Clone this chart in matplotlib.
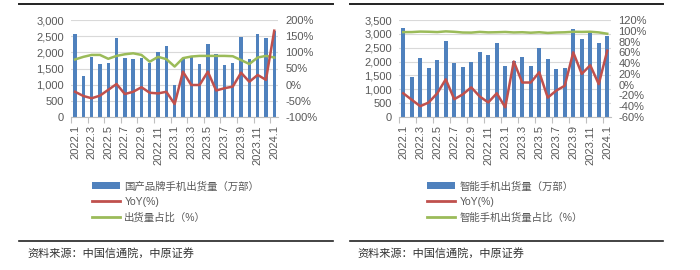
import matplotlib
matplotlib.use("Agg")
import matplotlib.pyplot as plt
import numpy as np
from matplotlib.lines import Line2D
from matplotlib.patches import Patch
from matplotlib.ticker import FuncFormatter, FixedLocator

plt.rcParams['font.family'] = ['Liberation Sans', 'Noto Sans CJK SC', 'DejaVu Sans']
plt.rcParams['axes.unicode_minus'] = False

months = ['2022.1', '2022.2', '2022.3', '2022.4', '2022.5', '2022.6', '2022.7', '2022.8',
          '2022.9', '2022.10', '2022.11', '2022.12', '2023.1', '2023.2', '2023.3', '2023.4',
          '2023.5', '2023.6', '2023.7', '2023.8', '2023.9', '2023.10', '2023.11', '2023.12',
          '2024.1']

# Left panel: domestic-brand phone shipments
domestic = [2560, 1270, 1865, 1640, 1660, 2450, 1815, 1785, 1815, 1680, 2000, 2205, 990,
            1785, 1885, 1630, 2250, 1950, 1610, 1680, 2485, 1785, 2555, 2455, 2650]
domestic_yoy = [-22, -35, -42, -34, -16, 2, -29, -22, -8, -25, -27, -22, -60,
                40, -1, -1, 40, -18, -11, -6, 37, 9, 30, 15, 167]
domestic_share = [78, 86, 92, 92, 80, 89, 94, 97, 92, 71, 86, 79, 56,
                  82, 87, 89, 89, 89, 89, 88, 76, 64, 84, 89, 84]

# Right panel: smartphone shipments
smart = [3225, 1455, 2118, 1782, 2058, 2744, 1935, 1815, 1997, 2358, 2238, 2685, 1840,
         2033, 2155, 1850, 2500, 2085, 1735, 1780, 3180, 2805, 3020, 2685, 2925]
smart_yoy = [-16, -28, -40, -33, -16, 10, -27, -18, -5, -22, -33, -16, -42,
             43, 4, 4, 23, -24, -11, -2, 60, 20, 36, 1, 63]
smart_share = [97.5, 97.6, 98.5, 98.2, 97.6, 98.9, 98.1, 96.8, 96.6, 97.9, 97.0, 97.3, 97.8,
               96.9, 97.3, 96.4, 97.3, 96.0, 96.8, 97.2, 98.1, 97.9, 98.2, 97.0, 94.5]

left_labels = ['国产品牌手机出货量（万部）', 'YoY(%)', '出货量占比（%）']
right_labels = ['智能手机出货量（万部）', 'YoY(%)', '智能手机出货量占比（%）']
source = '资料来源：中国信通院，中原证券'

BLUE = '#4F81BD'
RED = '#C0504D'
GREEN = '#9BBB59'
GRAY = '#595959'
W, H = 700, 270

fig = plt.figure(figsize=(7, 2.7), dpi=100)


def px_axes(x0, x1, y0, y1):
    return fig.add_axes([x0 / W, 1 - y1 / H, (x1 - x0) / W, (y1 - y0) / H])


def panel(x0, x1, bars, yoy, share, ymax, ystep, rmin, rmax, rstep, labels, leg_x):
    ax = px_axes(x0, x1, 20, 117)
    x = np.arange(len(months))
    ax.bar(x, bars, width=0.42, color=BLUE, zorder=2)
    ax.set_xlim(-0.5, len(months) - 0.5)
    ax.set_ylim(0, ymax)
    ax.set_yticks(np.arange(0, ymax + 1, ystep))
    ax.yaxis.set_major_formatter(FuncFormatter(lambda v, p: f'{int(v):,}'))
    ax.yaxis.grid(True, color='#D9D9D9', lw=0.8)
    ax.set_axisbelow(True)
    for s in ['top', 'left', 'right']:
        ax.spines[s].set_visible(False)
    ax.spines['bottom'].set_color('#BFBFBF')
    ax.set_xticks(x[::2])
    ax.set_xticklabels(months[::2], rotation=90)
    ax.xaxis.set_minor_locator(FixedLocator(np.arange(-0.5, len(months), 2)))
    ax.tick_params(axis='x', which='major', length=0, pad=6, labelsize=8, labelcolor=GRAY)
    ax.tick_params(axis='x', which='minor', length=4, color='#BFBFBF', width=0.8)
    ax.tick_params(axis='y', length=0, pad=5, labelsize=8, labelcolor=GRAY)

    ax2 = ax.twinx()
    ax2.plot(x, share, color=GREEN, lw=1.8, zorder=3)
    ax2.plot(x, yoy, color=RED, lw=1.8, zorder=4)
    ax2.set_ylim(rmin, rmax)
    ax2.set_yticks(np.arange(rmin, rmax + 1, rstep))
    ax2.yaxis.set_major_formatter(FuncFormatter(lambda v, p: f'{int(v)}%'))
    ax2.tick_params(axis='y', length=0, pad=5, labelsize=8, labelcolor=GRAY)
    for s in ax2.spines.values():
        s.set_visible(False)

    handles = [Patch(facecolor=BLUE, edgecolor='none'),
               Line2D([], [], color=RED, lw=2),
               Line2D([], [], color=GREEN, lw=2)]
    fig.legend(handles, labels, loc='upper left', bbox_to_anchor=(leg_x / W, 1 - 181 / H),
               frameon=False, fontsize=7.5, handlelength=2.7, handletextpad=0.4,
               labelspacing=0.55, borderpad=0, borderaxespad=0, labelcolor=GRAY)
    return ax


panel(70.9, 278.4, domestic, domestic_yoy, domestic_share, 3000, 500, -100, 200, 50,
      left_labels, 92)
panel(399, 611.5, smart, smart_yoy, smart_share, 3500, 500, -60, 120, 20,
      right_labels, 427)

for (a, b) in [(19, 333), (350, 663)]:
    fig.add_artist(Line2D([a / W, b / W], [1 - 4 / H] * 2, color='#222222', lw=1.4))
    fig.add_artist(Line2D([a / W, b / W], [1 - 241 / H] * 2, color='#222222', lw=1.2))

fig.text(27 / W, 1 - 253 / H, source, fontsize=8, color='#333333', va='center')
fig.text(357 / W, 1 - 253 / H, source, fontsize=8, color='#333333', va='center')

fig.savefig('out.png', dpi=100)
